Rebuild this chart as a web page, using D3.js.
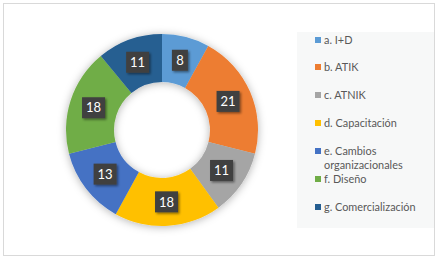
<!DOCTYPE html>
<html>
<head>
<meta charset="utf-8">
<script src="https://cdn.jsdelivr.net/npm/d3@7"></script>
<style>
  body { margin: 0; background: #fff; }
  svg { display: block; }
</style>
</head>
<body>
<div id="canvas"></div>
<script>
// chart data
const categories = ['a. I+D', 'b. ATIK', 'c. ATNIK', 'd. Capacitación',
                    'e. Cambios organizacionales', 'f. Diseño', 'g. Comercialización'];
const values = [8, 21, 11, 18, 13, 18, 11];
const colors = ['#5b9bd5', '#ed7d31', '#a5a5a5', '#ffc000', '#4472c4', '#70ad47', '#255e91'];

const w = 437, h = 257;
const cx = 162, cy = 130, rOuter = 96, rInner = 48;

const svg = d3.select('#canvas').append('svg')
  .attr('width', w).attr('height', h);

const defs = svg.append('defs');
const sh = defs.append('filter').attr('id', 'shadow')
  .attr('x', '-20%').attr('y', '-20%').attr('width', '140%').attr('height', '140%');
sh.append('feDropShadow').attr('dx', 0).attr('dy', 1).attr('stdDeviation', 4)
  .attr('flood-color', '#000').attr('flood-opacity', 0.3);
const lsh = defs.append('filter').attr('id', 'lshadow')
  .attr('x', '-30%').attr('y', '-30%').attr('width', '170%').attr('height', '170%');
lsh.append('feDropShadow').attr('dx', 1.5).attr('dy', 1.5).attr('stdDeviation', 1)
  .attr('flood-color', '#000').attr('flood-opacity', 0.45);

// frame
svg.append('rect')
  .attr('x', 3.5).attr('y', 3.5).attr('width', 431).attr('height', 252)
  .attr('fill', '#fff').attr('stroke', '#d9d9d9');

const pie = d3.pie().sort(null).value(d => d);
const arc = d3.arc().innerRadius(rInner).outerRadius(rOuter);
const arcs = pie(values);

const g = svg.append('g').attr('transform', `translate(${cx},${cy})`);

g.append('g').attr('filter', 'url(#shadow)')
  .selectAll('path')
  .data(arcs)
  .enter()
  .append('path')
  .attr('d', arc)
  .attr('fill', (d, i) => colors[i]);

// value labels
const labelArc = d3.arc().innerRadius(72).outerRadius(72);
const lab = g.selectAll('g.lab')
  .data(arcs)
  .enter()
  .append('g')
  .attr('class', 'lab')
  .attr('transform', d => `translate(${labelArc.centroid(d)})`);

lab.append('rect')
  .attr('x', d => String(d.data).length > 1 ? -11.5 : -8)
  .attr('y', -10.5)
  .attr('width', d => String(d.data).length > 1 ? 23 : 16)
  .attr('height', 21)
  .attr('fill', '#404040')
  .attr('filter', 'url(#lshadow)');

lab.append('text')
  .text(d => d.data)
  .attr('text-anchor', 'middle')
  .attr('dy', '0.36em')
  .attr('font-family', 'Lato, sans-serif')
  .attr('font-size', '13px')
  .attr('fill', '#fff');

// legend
svg.append('rect')
  .attr('x', 297).attr('y', 32).attr('width', 137).attr('height', 196)
  .attr('fill', '#f7f8f8');

const legendY = [40, 67, 95, 123, 151, 179, 207];
const leg = svg.selectAll('g.leg')
  .data(categories)
  .enter()
  .append('g')
  .attr('class', 'leg')
  .attr('transform', (d, i) => `translate(315,${legendY[i]})`);

leg.append('rect')
  .attr('x', 0).attr('y', -3).attr('width', 6).attr('height', 6)
  .attr('fill', (d, i) => colors[i]);

leg.each(function(d) {
  const t = d3.select(this).append('text')
    .attr('x', 9)
    .attr('font-family', 'Lato, sans-serif')
    .attr('font-size', '10.9px')
    .attr('fill', '#595959');
  const parts = d === 'e. Cambios organizacionales' ? ['e. Cambios', 'organizacionales'] : [d];
  parts.forEach((p, j) => {
    t.append('tspan').attr('x', 9).attr('y', 4 + j * 14).text(p);
  });
});
</script>
</body>
</html>
